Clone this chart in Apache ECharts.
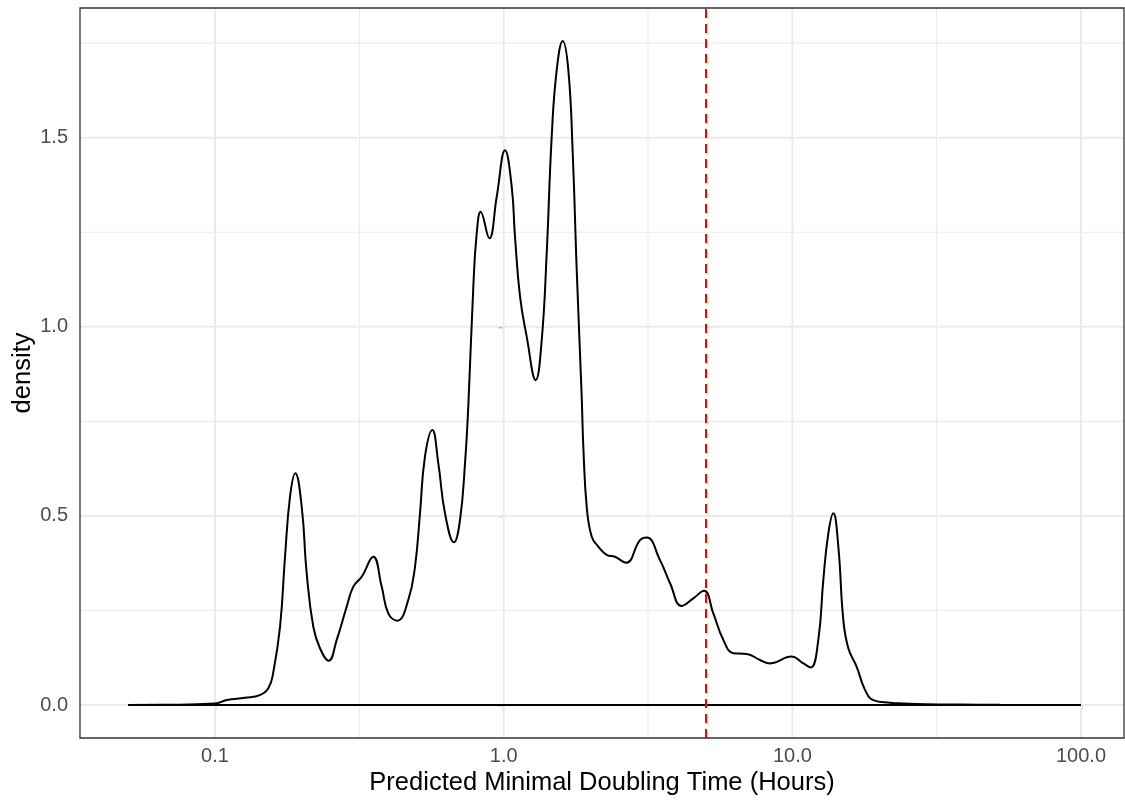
<!DOCTYPE html>
<html>
<head>
<meta charset="utf-8">
<script src="https://cdn.jsdelivr.net/npm/echarts@6/dist/echarts.min.js"></script>
<style>
html,body{margin:0;padding:0;background:#fff;}
#chart{width:1125px;height:803px;}
</style>
</head>
<body>
<div id="chart"></div>
<script>
// ---- data ----
const hours = [0.05, 0.0698, 0.1, 0.1098, 0.127, 0.143, 0.153, 0.159, 0.168, 0.1748, 0.1819, 0.1897, 0.1997, 0.2078, 0.219, 0.231, 0.2476, 0.264, 0.2859, 0.3014, 0.3222, 0.3534, 0.3779, 0.3985, 0.428, 0.4673, 0.493, 0.513, 0.5338, 0.5661, 0.5937, 0.6262, 0.6728, 0.7058, 0.7346, 0.754, 0.7849, 0.8065, 0.8325, 0.8917, 0.946, 1.0107, 1.0662, 1.0945, 1.1394, 1.2017, 1.2912, 1.3545, 1.4093, 1.4667, 1.5264, 1.6014, 1.6749, 1.7345, 1.7906, 1.8634, 1.8876, 1.9393, 2.0183, 2.1273, 2.2751, 2.4305, 2.6533, 2.967, 3.1297, 3.4802, 3.7701, 4.138, 4.5394, 4.9431, 5.3236, 5.7677, 6.2444, 6.9502, 7.7268, 8.3695, 9.9495, 10.914, 11.576, 12.3, 12.803, 13.324, 13.866, 14.43, 15.016, 15.627, 16.708, 17.852, 19.078, 21.796, 24.17, 29.206, 38.09, 52.4, 100];
const density = [0.0, 0.0005, 0.004, 0.013, 0.019, 0.026, 0.044, 0.084, 0.207, 0.392, 0.551, 0.613, 0.524, 0.348, 0.207, 0.15, 0.117, 0.172, 0.26, 0.313, 0.339, 0.392, 0.313, 0.242, 0.223, 0.278, 0.366, 0.507, 0.657, 0.727, 0.639, 0.507, 0.43, 0.489, 0.639, 0.789, 1.106, 1.247, 1.304, 1.234, 1.344, 1.467, 1.37, 1.238, 1.08, 0.974, 0.859, 0.965, 1.194, 1.503, 1.679, 1.756, 1.679, 1.459, 1.15, 0.815, 0.683, 0.524, 0.445, 0.419, 0.397, 0.392, 0.376, 0.436, 0.443, 0.383, 0.322, 0.262, 0.282, 0.302, 0.242, 0.172, 0.137, 0.135, 0.119, 0.11, 0.128, 0.11, 0.099, 0.172, 0.331, 0.454, 0.507, 0.419, 0.225, 0.15, 0.101, 0.04, 0.013, 0.006, 0.004, 0.002, 0.001, 0.0003, 0.0];
const baselineHours = [0.05, 100];
const thresholdHours = 5;
const xMajorTicks = [0.1, 1, 10, 100];
const xMinorTicks = [0.316228, 3.16228, 31.6228];
const yMajorTicks = [0, 0.5, 1.0, 1.5];
const yMinorTicks = [0.25, 0.75, 1.25, 1.75];
const xTitle = 'Predicted Minimal Doubling Time (Hours)';
const yTitle = 'density';

// ---- axis extents (log10 hours / density) ----
const XMIN = -1.4677, XMAX = 2.1489;
const YMIN = -0.0873, YMAX = 1.843;

// ---- build ----
const lg = v => Math.log10(v);
const curve = hours.map((h, i) => [lg(h), density[i]]);
const baseline = baselineHours.map(h => [lg(h), 0]);
const FONT = '"Liberation Sans", Arial, Helvetica, sans-serif';
const GRID = '#EBEBEB';

const gridSeries = [];
function gridLine(points, width) {
  gridSeries.push({
    type: 'line', data: points, z: 1, symbol: 'none', silent: true,
    lineStyle: {color: GRID, width: width}, emphasis: {disabled: true}
  });
}
xMinorTicks.forEach(v => gridLine([[lg(v), YMIN], [lg(v), YMAX]], 1.1));
yMinorTicks.forEach(v => gridLine([[XMIN, v], [XMAX, v]], 1.1));
xMajorTicks.forEach(v => gridLine([[lg(v), YMIN], [lg(v), YMAX]], 2));
yMajorTicks.forEach(v => gridLine([[XMIN, v], [XMAX, v]], 2));

const fmtX = v => Math.pow(10, v).toFixed(1);

const chart = echarts.init(document.getElementById('chart'), null, {renderer: 'canvas'});
chart.setOption({
  animation: false,
  backgroundColor: '#ffffff',
  grid: {left: 80, right: 1, top: 8, bottom: 65, containLabel: false, outerBoundsMode: 'none',
    show: true, borderColor: '#333333', borderWidth: 1.3, backgroundColor: 'transparent', z: 10},
  xAxis: {
    type: 'value',
    min: XMIN, max: XMAX,
    name: xTitle, nameLocation: 'middle', nameGap: 32, nameMoveOverlap: false,
    nameTextStyle: {fontFamily: FONT, fontSize: 25.5, color: '#000'},
    axisLine: {show: false},
    splitLine: {show: false},
    axisTick: {show: true, customValues: xMajorTicks.map(lg), length: 5, lineStyle: {color: '#333333', width: 1.3}},
    axisLabel: {customValues: xMajorTicks.map(lg), formatter: fmtX, margin: 8, fontFamily: FONT, fontSize: 20, color: '#4D4D4D'}
  },
  yAxis: {
    type: 'value',
    min: YMIN, max: YMAX,
    name: yTitle, nameLocation: 'middle', nameGap: 44, nameRotate: 90, nameMoveOverlap: false,
    nameTextStyle: {fontFamily: FONT, fontSize: 25.5, color: '#000'},
    axisLine: {show: false},
    splitLine: {show: false},
    axisTick: {show: true, customValues: yMajorTicks, length: 5, lineStyle: {color: '#333333', width: 1.3}},
    axisLabel: {customValues: yMajorTicks, formatter: v => v.toFixed(1), margin: 12, fontFamily: FONT, fontSize: 20, color: '#4D4D4D'}
  },
  series: gridSeries.concat([
    {
      type: 'line', data: baseline, z: 3, symbol: 'none', silent: true,
      lineStyle: {color: '#000', width: 2}
    },
    {
      type: 'line', data: curve, z: 4, symbol: 'none', silent: true, smooth: 0.45,
      lineStyle: {color: '#000', width: 2}
    },
    {
      type: 'line', data: [], z: 5, silent: true,
      markLine: {silent: true, symbol: 'none', label: {show: false}, animation: false,
        data: [{xAxis: lg(thresholdHours), lineStyle: {color: '#FF0000', width: 2, type: [9, 6]}}]}
    }
  ])
});
</script>
</body>
</html>
